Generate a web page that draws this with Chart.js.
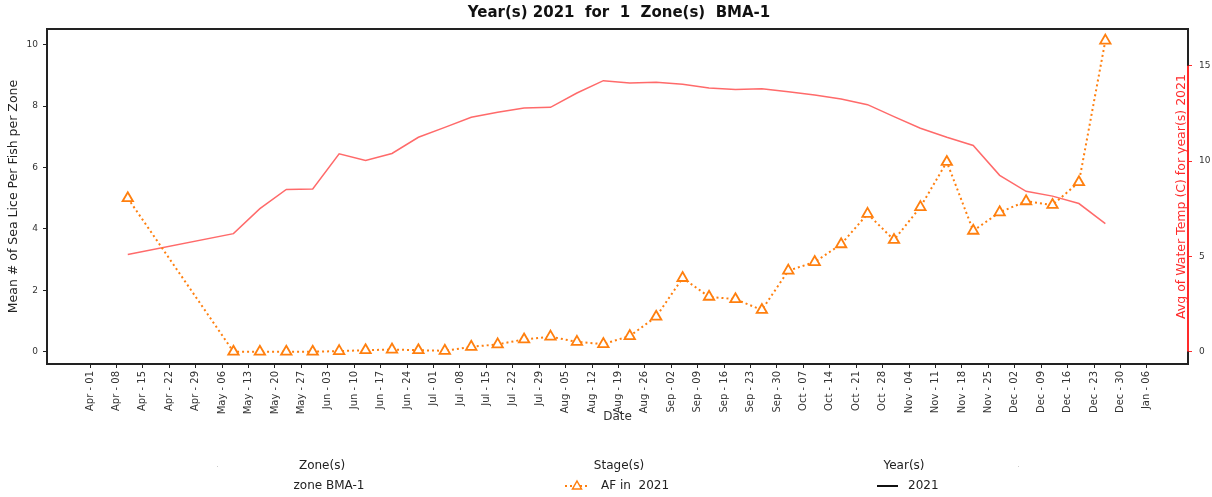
<!DOCTYPE html>
<html>
<head>
<meta charset="utf-8">
<script src="https://cdn.jsdelivr.net/npm/chart.js@4/dist/chart.umd.min.js"></script>
<style>
  html, body { margin: 0; padding: 0; background: #ffffff; }
  #wrap { width: 1212px; height: 497px; }
</style>
</head>
<body>
<div id="wrap"><canvas id="c" width="1212" height="497" style="width:1212px;height:497px"></canvas></div>
<script>
// ---- data ----
const sampleDates = [
  '2021-04-11',
  '2021-05-09','2021-05-16','2021-05-23','2021-05-30',
  '2021-06-06','2021-06-13','2021-06-20','2021-06-27',
  '2021-07-04','2021-07-11','2021-07-18','2021-07-25',
  '2021-08-01','2021-08-08','2021-08-15','2021-08-22','2021-08-29',
  '2021-09-05','2021-09-12','2021-09-19','2021-09-26',
  '2021-10-03','2021-10-10','2021-10-17','2021-10-24','2021-10-31',
  '2021-11-07','2021-11-14','2021-11-21','2021-11-28',
  '2021-12-05','2021-12-12','2021-12-19','2021-12-26'
];
const afValues = [
  5.00,
  0.00, 0.00, 0.00, 0.00,
  0.02, 0.05, 0.07, 0.05,
  0.03, 0.16, 0.24, 0.40,
  0.49, 0.32, 0.25, 0.51, 1.14,
  2.40, 1.79, 1.71, 1.36,
  2.64, 2.92, 3.50, 4.49, 3.64,
  4.71, 6.18, 3.94, 4.54,
  4.90, 4.78, 5.52, 10.13
];
const waterTemp = [
  5.10,
  6.19, 7.50, 8.51, 8.53,
  10.38, 10.03, 10.40, 11.25,
  11.77, 12.30, 12.56, 12.79,
  12.82, 13.57, 14.22, 14.10, 14.13,
  14.03, 13.83, 13.75, 13.80,
  13.64, 13.47, 13.26, 12.96, 12.33,
  11.72, 11.25, 10.82, 9.25,
  8.41, 8.16, 7.77, 6.72
];
const xTickLabels = [
  'Apr - 01','Apr - 08','Apr - 15','Apr - 22','Apr - 29',
  'May - 06','May - 13','May - 20','May - 27',
  'Jun - 03','Jun - 10','Jun - 17','Jun - 24',
  'Jul - 01','Jul - 08','Jul - 15','Jul - 22','Jul - 29',
  'Aug - 05','Aug - 12','Aug - 19','Aug - 26',
  'Sep - 02','Sep - 09','Sep - 16','Sep - 23','Sep - 30',
  'Oct - 07','Oct - 14','Oct - 21','Oct - 28',
  'Nov - 04','Nov - 11','Nov - 18','Nov - 25',
  'Dec - 02','Dec - 09','Dec - 16','Dec - 23','Dec - 30',
  'Jan - 06'
];
const leftTicks = [0, 2, 4, 6, 8, 10];
const rightTicks = [0, 5, 10, 15];

const titleText = 'Year(s) 2021  for  1  Zone(s)  BMA-1';
const leftAxisTitle = 'Mean # of Sea Lice Per Fish per Zone';
const rightAxisTitle = 'Avg of Water Temp (C) for year(s) 2021';
const xAxisTitle = 'Date';

// ---- helpers ----
const origin = Date.UTC(2021, 3, 1);
function dayOffset(s) {
  return (new Date(s + 'T00:00:00Z').getTime() - origin) / 86400000;
}
const afPoints = sampleDates.map((d, i) => ({ x: dayOffset(d), y: afValues[i] }));
const tempPoints = sampleDates.map((d, i) => ({ x: dayOffset(d), y: waterTemp[i] }));
const xTickValues = xTickLabels.map((_, i) => i * 7);

const FONT = "'DejaVu Sans', 'Liberation Sans', sans-serif";
const ORANGE = '#ff7f0e';
const TEMP = '#ff6a6a';
const RED = '#ff2a2a';

const decorPlugin = {
  id: 'decor',
  afterDatasetsDraw(chart) {
    const ctx = chart.ctx;
    const a = chart.chartArea;
    const y2 = chart.scales.y2;
    ctx.save();
    // frame
    ctx.strokeStyle = '#222';
    ctx.lineWidth = 2;
    ctx.strokeRect(a.left, a.top, a.right - a.left, a.bottom - a.top);
    // red spine segment on right axis
    ctx.strokeStyle = RED;
    ctx.lineWidth = 2;
    ctx.beginPath();
    ctx.moveTo(a.right, y2.getPixelForValue(rightTicks[0]));
    ctx.lineTo(a.right, y2.getPixelForValue(rightTicks[rightTicks.length - 1]));
    ctx.stroke();
    // right axis title inside plot
    ctx.fillStyle = RED;
    ctx.font = '12.5px ' + FONT;
    ctx.textAlign = 'center';
    ctx.textBaseline = 'middle';
    ctx.translate(a.right - 6, (a.top + a.bottom) / 2);
    ctx.rotate(-Math.PI / 2);
    ctx.fillText(rightAxisTitle, 0, 0);
    ctx.restore();
  },
  afterDraw(chart) {
    const ctx = chart.ctx;
    ctx.save();
    // title
    ctx.fillStyle = '#111';
    ctx.font = 'bold 15px ' + FONT;
    ctx.textAlign = 'center';
    ctx.textBaseline = 'middle';
    ctx.fillText(titleText, 619, 13);

    // legend
    ctx.font = '12px ' + FONT;
    ctx.fillStyle = '#222';
    ctx.textAlign = 'center';
    ctx.fillText('Zone(s)', 322, 466);
    ctx.fillText('zone BMA-1', 329, 486);
    ctx.fillText('Stage(s)', 619, 466);
    ctx.fillText('Year(s)', 904, 466);
    ctx.textAlign = 'left';
    ctx.fillText('AF in  2021', 601, 486);
    ctx.fillText('2021', 908, 486);
    // AF legend marker
    ctx.strokeStyle = ORANGE;
    ctx.lineWidth = 2;
    ctx.setLineDash([2, 3]);
    ctx.beginPath();
    ctx.moveTo(565, 486); ctx.lineTo(588, 486);
    ctx.stroke();
    ctx.setLineDash([]);
    ctx.beginPath();
    ctx.moveTo(577, 481); ctx.lineTo(581.5, 489); ctx.lineTo(572.5, 489); ctx.closePath();
    ctx.fillStyle = '#fff';
    ctx.fill();
    ctx.lineWidth = 1.5;
    ctx.stroke();
    // year legend line
    ctx.strokeStyle = '#111';
    ctx.lineWidth = 2;
    ctx.beginPath();
    ctx.moveTo(877, 486); ctx.lineTo(898, 486);
    ctx.stroke();
    // faint legend corners
    ctx.fillStyle = '#cccccc';
    ctx.fillRect(217, 466, 1, 1);
    ctx.fillRect(1018, 466, 1, 1);
    ctx.restore();
  }
};

new Chart(document.getElementById('c'), {
  type: 'line',
  data: {
    datasets: [
      {
        label: 'AF in  2021',
        data: afPoints,
        yAxisID: 'y',
        borderColor: ORANGE,
        borderWidth: 2,
        borderDash: [2, 3],
        fill: false,
        tension: 0,
        pointStyle: 'triangle',
        pointRadius: 6,
        pointHoverRadius: 6,
        pointBorderWidth: 1.8,
        pointBorderColor: ORANGE,
        pointBackgroundColor: '#ffffff'
      },
      {
        label: '2021',
        data: tempPoints,
        yAxisID: 'y2',
        borderColor: TEMP,
        borderWidth: 1.5,
        fill: false,
        tension: 0,
        pointRadius: 0
      }
    ]
  },
  options: {
    responsive: false,
    animation: false,
    devicePixelRatio: 1,
    layout: { padding: { top: 29, left: 0, right: 0, bottom: 0 } },
    plugins: { legend: { display: false }, title: { display: false }, tooltip: { enabled: false } },
    scales: {
      x: {
        type: 'linear',
        position: 'bottom',
        min: -11.4,
        max: 290.9,
        afterBuildTicks: (s) => { s.ticks = xTickValues.map(v => ({ value: v })); },
        afterFit: (s) => { s.height = 133; },
        border: { display: false },
        grid: { display: true, drawOnChartArea: false, drawTicks: true, tickLength: 4, tickColor: '#222', tickWidth: 1 },
        ticks: {
          autoSkip: false,
          minRotation: 90,
          maxRotation: 90,
          padding: 3,
          color: '#333',
          font: { family: FONT, size: 10 },
          callback: (v) => { const i = xTickValues.indexOf(v); return i >= 0 ? xTickLabels[i] : ''; }
        },
        title: {
          display: true,
          text: xAxisTitle,
          color: '#333',
          font: { family: FONT, size: 12 },
          padding: { top: 0, bottom: 73 }
        }
      },
      y: {
        type: 'linear',
        position: 'left',
        min: -0.4,
        max: 10.51,
        afterBuildTicks: (s) => { s.ticks = leftTicks.map(v => ({ value: v })); },
        afterFit: (s) => { s.width = 47; },
        border: { display: false },
        grid: { display: true, drawOnChartArea: false, drawTicks: true, tickLength: 4, tickColor: '#222', tickWidth: 1 },
        ticks: {
          padding: 5,
          color: '#333',
          font: { family: FONT, size: 9 },
          callback: (v) => String(v)
        },
        title: {
          display: true,
          text: leftAxisTitle,
          color: '#222',
          font: { family: FONT, size: 12.5 },
          padding: { top: 6, bottom: 0 }
        }
      },
      y2: {
        type: 'linear',
        position: 'right',
        min: -0.65,
        max: 16.93,
        afterBuildTicks: (s) => { s.ticks = rightTicks.map(v => ({ value: v })); },
        afterFit: (s) => { s.width = 24; },
        border: { display: false },
        grid: { display: true, drawOnChartArea: false, drawTicks: true, tickLength: 4, tickColor: RED, tickWidth: 1 },
        ticks: {
          padding: 7,
          color: '#333',
          font: { family: FONT, size: 9 },
          callback: (v) => String(v)
        }
      }
    }
  },
  plugins: [decorPlugin]
});
</script>
</body>
</html>
